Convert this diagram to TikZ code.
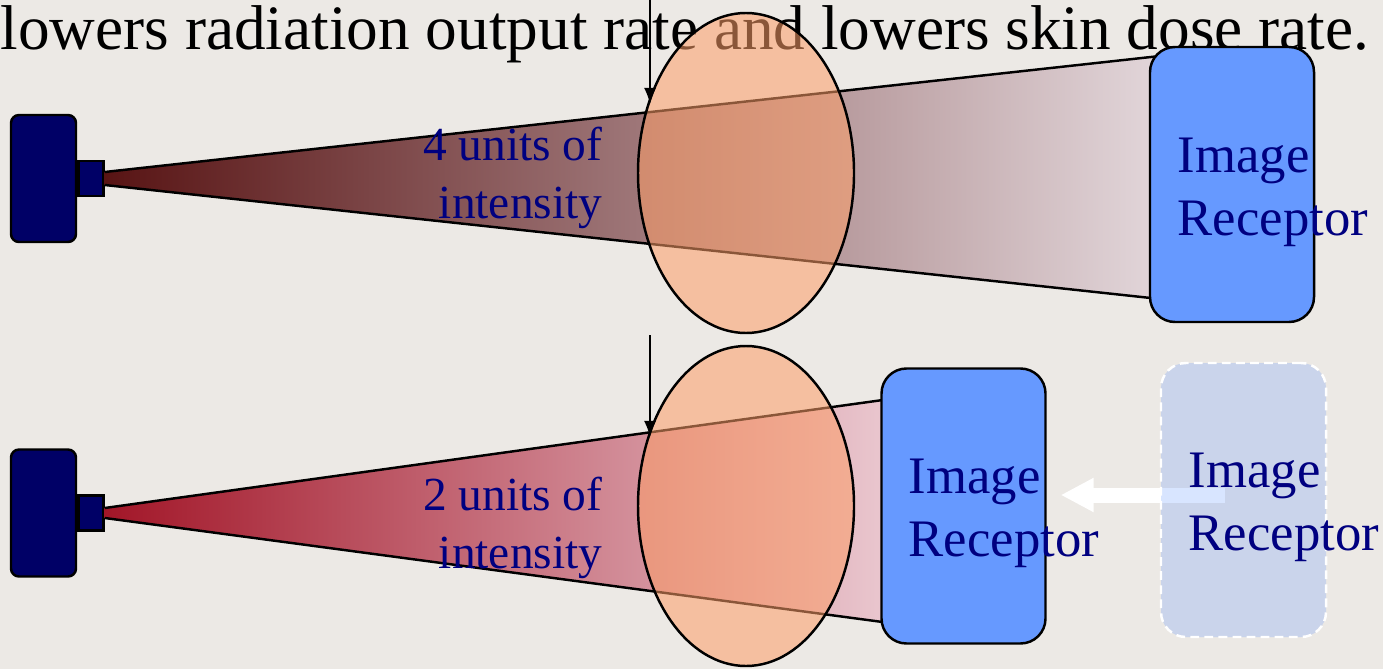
\documentclass[tikz,border=0pt]{standalone}
\usepackage{fontspec}
\setmainfont{Liberation Serif}
\usetikzlibrary{positioning, arrows.meta, shapes.geometric, calc}

\definecolor{slidebg}{RGB}{236,233,229}
\definecolor{tubenavy}{RGB}{0,0,102}
\definecolor{labelnavy}{RGB}{0,0,128}
\definecolor{rcptblue}{RGB}{102,153,255}
\definecolor{bodypeach}{RGB}{253,158,104}
\definecolor{beamdark}{RGB}{88,20,20}
\definecolor{beammauve}{RGB}{163,143,148}
\definecolor{beamlight}{RGB}{226,214,218}
\definecolor{beamred}{RGB}{162,22,40}
\definecolor{beamrose}{RGB}{205,130,145}
\definecolor{beampink}{RGB}{234,200,208}

\tikzset{
  tube/.style={draw=black, line width=0.7pt, fill=tubenavy, rounded corners=0.08cm,
    minimum width=0.65cm, minimum height=1.27cm, inner sep=0},
  nozzle/.style={draw=black, line width=0.7pt, fill=tubenavy,
    minimum width=0.25cm, minimum height=0.35cm, inner sep=0},
  beamedge/.style={draw=black, line width=0.7pt},
  patient/.style={ellipse, draw=black, line width=0.7pt, fill=bodypeach, fill opacity=0.55,
    minimum width=2.16cm, minimum height=3.2cm, inner sep=0},
  rcpt/.style={draw=black, line width=0.7pt, fill=rcptblue, rounded corners=0.25cm,
    minimum width=1.64cm, minimum height=2.75cm, inner sep=0},
  ghost/.style={draw=white, line width=0.7pt, dash pattern=on 2.5pt off 1.5pt,
    fill=rcptblue, fill opacity=0.25, rounded corners=0.25cm,
    minimum width=1.65cm, minimum height=2.74cm, inner sep=0},
  rlabel/.style={text=labelnavy, font=\fontsize{15}{17.9}\selectfont, align=left, inner sep=0},
  ilabel/.style={text=labelnavy, font=\fontsize{13.5}{16.5}\selectfont, align=right, inner sep=0},
  pointer/.style={draw=black, line width=0.5pt, -{Latex[length=1.6mm,width=1.2mm]}},
  push/.style={draw=white, line width=0.15cm, -{Triangle[length=0.33cm,width=0.32cm]}},
}

\begin{document}
\begin{tikzpicture}
    % Slide background
    \useasboundingbox (0,0) rectangle (13.83,6.69);
    \fill[slidebg] (0,0) rectangle (13.83,6.69);

    % Heading line
    \node[anchor=base west, inner sep=0, font=\fontsize{18}{22}\selectfont] (heading) at (0,6.19)
        {lowers radiation output rate and lowers skin dose rate.};

    % X-ray tubes
    \node[tube] (tubeA) at (0.435,4.905) {};
    \node[nozzle, right=0pt of tubeA] (nozzleA) {};
    \node[tube] (tubeB) at (0.435,1.56) {};
    \node[nozzle, right=0pt of tubeB] (nozzleB) {};

    % Beams (far receptor on top, near receptor below)
    \fill[left color=beamdark, middle color=beammauve, right color=beamlight]
        ($(nozzleA.east)+(0,0.065)$) -- (11.6,6.13) -- (11.6,3.70) -- ($(nozzleA.east)+(0,-0.065)$) -- cycle;
    \draw[beamedge] ($(nozzleA.east)+(0,0.065)$) -- (11.6,6.13);
    \draw[beamedge] ($(nozzleA.east)+(0,-0.065)$) -- (11.6,3.70);
    \fill[left color=beamred, middle color=beamrose, right color=beampink]
        ($(nozzleB.east)+(0,0.05)$) -- (8.9,2.70) -- (8.9,0.46) -- ($(nozzleB.east)+(0,-0.05)$) -- cycle;
    \draw[beamedge] ($(nozzleB.east)+(0,0.05)$) -- (8.9,2.70);
    \draw[beamedge] ($(nozzleB.east)+(0,-0.05)$) -- (8.9,0.46);

    % Intensity labels
    \node[ilabel, anchor=east] (intA) at (6.03,4.91) {4 units of\\intensity};
    \node[ilabel, anchor=east] (intB) at (6.03,1.41) {2 units of\\intensity};

    % Patients
    \node[patient] (bodyA) at (7.46,4.96) {};
    \node[patient] (bodyB) at (7.46,1.63) {};

    % Image receptors
    \node[rcpt] (rcptA) at (12.32,4.845) {};
    \node[rcpt] (rcptB) at (9.635,1.63) {};

    % Receptor moved closer
    \coordinate (pushB) at (12.25,1.74);
    \draw[push] (pushB) -- ($(rcptB.east |- pushB)+(0.14,0)$);
    \node[ghost] (rcptC) at (12.435,1.69) {};

    \node[rlabel, anchor=west] (rtxtA) at (11.77,4.77) {Image\\Receptor};
    \node[rlabel, anchor=west] (rtxtB) at (9.08,1.56) {Image\\Receptor};
    \node[rlabel, anchor=west] (rtxtC) at (11.88,1.62) {Image\\Receptor};

    % Pointers to the skin entrance
    \coordinate (dropA) at (6.5,6.69);
    \coordinate (dropB) at (6.5,3.34);
    \draw[pointer] (dropA) -- (dropA |- bodyA.145);
    \draw[pointer] (dropB) -- (dropB |- bodyB.145);
\end{tikzpicture}
\end{document}
